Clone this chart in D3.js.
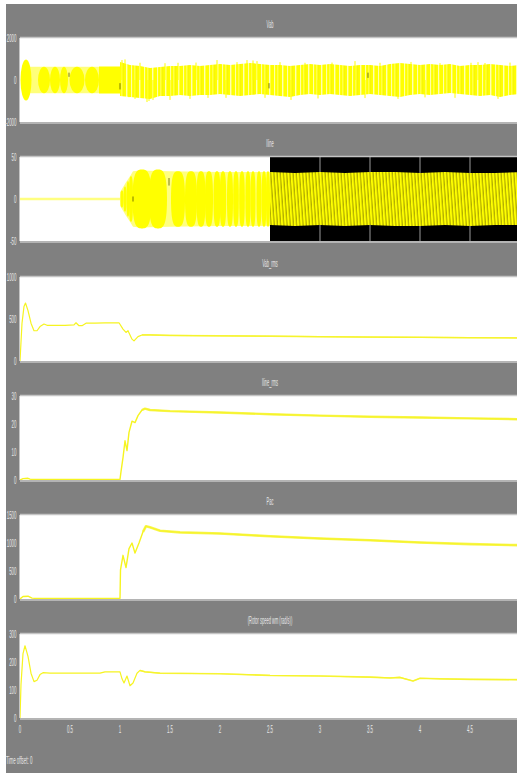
<!DOCTYPE html>
<html>
<head>
<meta charset="utf-8">
<script src="https://cdn.jsdelivr.net/npm/d3@7"></script>
<style>
body { margin: 0; background: #fff; }
svg { display: block; }
text { font-family: "Liberation Sans", Arial, sans-serif; fill: #e6e6e6; }
</style>
</head>
<body>
<svg id="chart" width="517" height="773"></svg>
<script>
// ---- data ----
const timeTicks = [0, 0.5, 1, 1.5, 2, 2.5, 3, 3.5, 4, 4.5]
const titles = ["Vab", "Iline", "Vab_rms", "Iline_rms", "Pac", "(Rotor speed wm (rad/s))"]
const yDomains = [[-2000, 2000], [-50, 50], [0, 1000], [0, 30], [0, 1500], [0, 300]]
const yTicks = [[-2000, 0, 2000], [-50, 0, 50], [0, 500, 1000], [0, 10, 20, 30], [0, 500, 1000, 1500], [0, 100, 200, 300]]

// Vab: beat lobes before 1 s  [centre t, half width, amplitude]
const vabLobes = [[0.06, 0.055, 980], [0.24, 0.06, 630], [0.35, 0.05, 630], [0.44, 0.04, 630], [0.57, 0.075, 630], [0.72, 0.07, 630]]
const vabPale = [[0.1, 1.0, 630]]
const vabSolid = [[0.79, 1.0, 640]]
// Vab envelope after 1 s
const vabEnvT = [1.0, 1.1, 1.2, 1.3, 1.4, 1.5, 1.6, 1.7, 1.8, 1.9, 2.0, 2.1, 2.2, 2.3, 2.4, 2.5, 2.6, 2.7, 2.8, 2.9, 3.0,
  3.1, 3.2, 3.3, 3.4, 3.5, 3.6, 3.7, 3.8, 3.9, 4.0, 4.1, 4.2, 4.3, 4.4, 4.5, 4.6, 4.7, 4.8, 4.9, 5.0]
const vabHi = [860, 710, 670, 570, 620, 670, 670, 710, 670, 710, 760, 710, 760, 810, 760, 710, 710, 670, 710, 760, 710,
  760, 710, 670, 710, 710, 670, 760, 810, 760, 710, 760, 710, 760, 670, 710, 710, 760, 710, 670, 710]
const vabLo = [-760, -810, -860, -900, -760, -760, -710, -760, -710, -710, -670, -710, -760, -710, -670, -710, -760, -810, -710, -670, -710,
  -670, -710, -760, -710, -670, -710, -760, -810, -710, -670, -710, -670, -620, -670, -710, -760, -710, -810, -710, -670]
const vabSpikes = [[1.02, 950], [1.05, 980], [1.09, -820], [1.15, -900], [1.2, 820], [1.27, -1050], [1.29, -1000], [1.33, -950],
  [1.45, 800], [1.5, -950], [1.58, 820], [1.7, -900], [1.76, 830], [1.88, -850], [1.97, 950], [2.06, -850], [2.17, 850],
  [2.27, 950], [2.33, 930], [2.37, 900], [2.45, -850], [2.6, 850], [2.71, -950], [2.85, 820], [2.98, -880], [3.12, 830],
  [3.35, 900], [3.45, -860], [3.6, 820], [3.78, -900], [3.91, 860], [4.05, -830], [4.2, 800], [4.35, -850], [4.51, 820],
  [4.58, 850], [4.65, 810], [4.78, -900], [4.9, 830]]
const vabMarks = [[0.49, 150, 350], [1.0, -150, -450], [2.49, -150, -400], [3.48, 100, 350]]

// Iline
const ilineZeroT = [0, 1.0]
const ilineZero = [0, 0]
const ilinePaleT = [1.0, 1.03, 1.06, 1.1, 1.13, 1.2, 1.5, 2.0, 2.5]
const ilinePale = [8, 14, 20, 27, 33, 34, 33, 32, 32]
const ilineLobes = [[1.02, 0.015, 10], [1.05, 0.015, 15], [1.08, 0.015, 21], [1.11, 0.02, 27], [1.22, 0.095, 35], [1.38, 0.09, 35],
  [1.58, 0.07, 33], [1.71, 0.06, 33], [1.81, 0.045, 33], [1.89, 0.04, 33], [1.97, 0.035, 33], [2.03, 0.032, 33],
  [2.10, 0.03, 33], [2.16, 0.028, 33], [2.22, 0.028, 33], [2.28, 0.026, 33], [2.33, 0.025, 33], [2.39, 0.025, 33],
  [2.44, 0.024, 33], [2.48, 0.02, 33]]
const ilineBandT = [2.5, 2.75, 3.0, 3.25, 3.5, 3.75, 4.0, 4.25, 4.5, 4.75, 5.0]
const ilineBandHi = [32, 31, 32, 31, 32, 32, 31, 32, 31, 31, 32]
const ilineBandLo = [-31, -32, -31, -32, -31, -32, -32, -31, -32, -31, -31]
const ilineBlackFrom = 2.5
const ilineGrid = [3, 3.5, 4, 4.5]
const ilineMarks = [[1.13, 3, -3], [1.49, 25, 16]]

// Vab_rms
const vabRmsT = [0, 0.02, 0.04, 0.055, 0.08, 0.11, 0.14, 0.17, 0.2, 0.24, 0.27, 0.35, 0.45, 0.54, 0.56, 0.59, 0.62, 0.66, 0.75, 0.85,
  0.99, 1.03, 1.06, 1.08, 1.12, 1.14, 1.18, 1.22, 1.3, 1.5, 2.0, 2.5, 3.0, 3.5, 4.0, 4.5, 5.0]
const vabRms = [0, 450, 650, 690, 600, 450, 360, 360, 410, 440, 425, 425, 425, 430, 455, 420, 420, 450, 450, 455,
  455, 380, 340, 360, 260, 240, 290, 310, 310, 305, 300, 295, 290, 285, 282, 278, 275]

// Iline_rms
const ilineRmsT = [0, 0.03, 0.08, 0.1, 0.12, 1.0, 1.01, 1.03, 1.05, 1.07, 1.09, 1.12, 1.15, 1.18, 1.22, 1.25, 1.3, 1.5,
  2.0, 2.5, 3.0, 3.5, 4.0, 4.5, 5.0]
const ilineRms = [0, 0.5, 0.6, 0.3, 0.2, 0.2, 3, 8, 14, 10.5, 17, 21, 20.5, 23, 25, 25.5, 25, 24.6,
  24.1, 23.5, 23.0, 22.6, 22.3, 22.0, 21.7]

// Pac
const pacT = [0, 0.03, 0.08, 0.12, 0.15, 1.0, 1.005, 1.03, 1.06, 1.09, 1.12, 1.15, 1.19, 1.23, 1.26, 1.3, 1.4, 1.6,
  2.0, 2.5, 3.0, 3.5, 4.0, 4.5, 5.0]
const pac = [0, 45, 50, 15, 12, 12, 520, 780, 560, 900, 1000, 820, 1000, 1200, 1300, 1280, 1220, 1190,
  1170, 1120, 1080, 1050, 1010, 980, 960]

// Rotor speed
const wmT = [0, 0.01, 0.03, 0.05, 0.08, 0.11, 0.14, 0.17, 0.2, 0.23, 0.3, 0.8, 0.85, 1.0, 1.02, 1.04, 1.07, 1.1, 1.13,
  1.17, 1.2, 1.25, 1.4, 2.0, 2.5, 3.0, 3.5, 3.7, 3.8, 3.93, 4.0, 4.2, 4.5, 5.0]
const wm = [0, 120, 230, 258, 220, 160, 130, 135, 155, 162, 160, 160, 165, 165, 140, 125, 150, 115, 125,
  160, 170, 165, 160, 158, 152, 150, 146, 143, 145, 132, 142, 140, 138, 137]

// ---- layout ----
const W = 517, H = 773
const left = 20, right = 520, plotH = 84
const tops = [38, 157, 277, 396, 515, 634]
const textScale = 0.4

const svg = d3.select("#chart")
const zip = (ts, vs) => ts.map((t, i) => ({t: t, v: vs[i]}))

// backgrounds
svg.append("rect").attr("x", 6).attr("y", 4).attr("width", W - 6).attr("height", H - 4).attr("fill", "#808080")

// patterns
const defs = svg.append("defs")
const pv = defs.append("pattern").attr("id", "vabTex").attr("patternUnits", "userSpaceOnUse")
  .attr("width", 13).attr("height", 84)
pv.append("rect").attr("width", 13).attr("height", 84).attr("fill", "#ffff00")
pv.append("rect").attr("x", 1).attr("width", 1.1).attr("height", 84).attr("fill", "#ffffa6")
pv.append("rect").attr("x", 4.5).attr("width", 0.7).attr("height", 84).attr("fill", "#ffff90")
pv.append("rect").attr("x", 6.6).attr("width", 0.5).attr("height", 84).attr("fill", "#ecea10")
pv.append("rect").attr("x", 9).attr("width", 1.4).attr("height", 84).attr("fill", "#ffffb0")

const pi = defs.append("pattern").attr("id", "ilineTex").attr("patternUnits", "userSpaceOnUse")
  .attr("width", 3.2).attr("height", 84).attr("patternTransform", "skewX(4)")
pi.append("rect").attr("width", 3.2).attr("height", 84).attr("fill", "#ffff00")
pi.append("rect").attr("x", 2).attr("width", 1.1).attr("height", 84).attr("fill", "#a8a200")

const x = d3.scaleLinear().domain([0, 5]).range([left, right])

function label(g, txt, tx, ty, anchor, size) {
  g.append("text")
    .attr("transform", `translate(${tx},${ty}) scale(${textScale},1)`)
    .attr("text-anchor", anchor)
    .attr("dominant-baseline", "central")
    .attr("font-size", size)
    .text(txt)
}

const panels = tops.map((top, i) => {
  const y = d3.scaleLinear().domain(yDomains[i]).range([top + plotH, top])
  const g = svg.append("g")
  g.append("rect").attr("x", left).attr("y", top).attr("width", right - left).attr("height", plotH)
    .attr("fill", "#fff")
  const clipId = "clip" + i
  defs.append("clipPath").attr("id", clipId).append("rect")
    .attr("x", left).attr("y", top).attr("width", right - left).attr("height", plotH)
  const body = g.append("g").attr("clip-path", `url(#${clipId})`)
  // title
  label(g, titles[i], x(2.5), top - 13, "middle", 10)
  // y tick labels
  yTicks[i].forEach(v => label(g, v, 16.5, y(v), "end", 11))
  return {g, body, y, top}
})

// ---- Vab ----
{
  const {body, y} = panels[0]
  body.selectAll(".pale").data(vabPale).join("rect")
    .attr("x", d => x(d[0])).attr("width", d => x(d[1]) - x(d[0]))
    .attr("y", d => y(d[2])).attr("height", d => y(-d[2]) - y(d[2]))
    .attr("fill", "#ffff7a")
  body.selectAll(".lobe").data(vabLobes).join("ellipse")
    .attr("cx", d => x(d[0])).attr("rx", d => x(d[0] + d[1]) - x(d[0]))
    .attr("cy", y(0)).attr("ry", d => y(0) - y(d[2]))
    .attr("fill", "#ffff00")
  body.selectAll(".solid").data(vabSolid).join("rect")
    .attr("x", d => x(d[0])).attr("width", d => x(d[1]) - x(d[0]))
    .attr("y", d => y(d[2])).attr("height", d => y(-d[2]) - y(d[2]))
    .attr("fill", "#ffff00")
  const env = vabEnvT.map((t, i) => ({t: t, hi: vabHi[i], lo: vabLo[i]}))
  body.append("path").datum(env)
    .attr("d", d3.area().x(d => x(d.t)).y0(d => y(d.lo)).y1(d => y(d.hi)).curve(d3.curveLinear))
    .attr("fill", "url(#vabTex)")
  body.selectAll(".spike").data(vabSpikes).join("line")
    .attr("x1", d => x(d[0])).attr("x2", d => x(d[0]))
    .attr("y1", y(0)).attr("y2", d => y(d[1]))
    .attr("stroke", "#ffff00").attr("stroke-width", 1)
  body.selectAll(".mark").data(vabMarks).join("line")
    .attr("x1", d => x(d[0])).attr("x2", d => x(d[0]))
    .attr("y1", d => y(d[1])).attr("y2", d => y(d[2]))
    .attr("stroke", "#555500").attr("stroke-width", 0.8)
}

// ---- Iline ----
{
  const {body, y, top} = panels[1]
  body.append("rect").attr("x", x(ilineBlackFrom)).attr("width", right - x(ilineBlackFrom))
    .attr("y", top).attr("height", plotH).attr("fill", "#000")
  body.selectAll(".grid").data(ilineGrid).join("line")
    .attr("x1", d => x(d)).attr("x2", d => x(d)).attr("y1", top).attr("y2", top + plotH)
    .attr("stroke", "#9a9a9a").attr("stroke-width", 1)
  body.append("path").datum(zip(ilineZeroT, ilineZero))
    .attr("d", d3.line().x(d => x(d.t)).y(d => y(d.v)))
    .attr("stroke", "#ffff80").attr("stroke-width", 2.5).attr("fill", "none")
  body.append("path").datum(zip(ilinePaleT, ilinePale))
    .attr("d", d3.area().x(d => x(d.t)).y0(d => y(-d.v)).y1(d => y(d.v)))
    .attr("fill", "#ffff80")
  body.selectAll(".lobe").data(ilineLobes).join("path")
    .attr("d", d => {
      const x0 = x(d[0] - d[1]), x1 = x(d[0] + d[1]), xc = x(d[0])
      const yc = y(0), up = y(d[2]), dn = y(-d[2])
      const p = d3.path()
      p.moveTo(x0, yc)
      p.bezierCurveTo(x0, up, xc - (xc - x0) * 0.45, up, xc, up)
      p.bezierCurveTo(xc + (x1 - xc) * 0.45, up, x1, up, x1, yc)
      p.bezierCurveTo(x1, dn, xc + (x1 - xc) * 0.45, dn, xc, dn)
      p.bezierCurveTo(xc - (xc - x0) * 0.45, dn, x0, dn, x0, yc)
      p.closePath()
      return p.toString()
    })
    .attr("fill", "#ffff00")
  const band = ilineBandT.map((t, i) => ({t: t, hi: ilineBandHi[i], lo: ilineBandLo[i]}))
  body.append("path").datum(band)
    .attr("d", d3.area().x(d => x(d.t)).y0(d => y(d.lo)).y1(d => y(d.hi)))
    .attr("fill", "url(#ilineTex)")
  body.selectAll(".mark").data(ilineMarks).join("line")
    .attr("x1", d => x(d[0])).attr("x2", d => x(d[0]))
    .attr("y1", d => y(d[1])).attr("y2", d => y(d[2]))
    .attr("stroke", "#555500").attr("stroke-width", 0.8)
}

// ---- rms / power / speed lines ----
const lineSeries = [
  {p: 2, t: vabRmsT, v: vabRms, w: 1.2, thick: 1.5},
  {p: 3, t: ilineRmsT, v: ilineRms, w: 1.4, thick: 2.4},
  {p: 4, t: pacT, v: pac, w: 1.4, thick: 2.6},
  {p: 5, t: wmT, v: wm, w: 1.2, thick: 1.6}
]
lineSeries.forEach(s => {
  const {body, y} = panels[s.p]
  const pts = zip(s.t, s.v)
  const line = d3.line().x(d => x(d.t)).y(d => y(d.v))
  body.append("path").datum(pts).attr("d", line)
    .attr("fill", "none").attr("stroke", "#f6f420").attr("stroke-width", s.w)
    .attr("stroke-linejoin", "round")
  body.append("path").datum(pts.filter(d => d.t >= 1.2)).attr("d", line)
    .attr("fill", "none").attr("stroke", "#f6f430").attr("stroke-width", s.thick)
    .attr("stroke-opacity", 0.8).attr("stroke-linejoin", "round")
})

// frame lines
panels.forEach(({g, top}) => {
  g.append("line").attr("x1", left).attr("x2", W).attr("y1", top - 0.5).attr("y2", top - 0.5)
    .attr("stroke", "#c4c4c4").attr("stroke-width", 1.5)
  g.append("line").attr("x1", left).attr("x2", W).attr("y1", top + plotH + 1).attr("y2", top + plotH + 1)
    .attr("stroke", "#b4b4b4").attr("stroke-width", 2)
  g.append("line").attr("x1", left - 0.5).attr("x2", left - 0.5).attr("y1", top).attr("y2", top + plotH)
    .attr("stroke", "#c4c4c4").attr("stroke-width", 1)
})

// x tick labels under last panel
const last = panels[5]
timeTicks.forEach(t => label(svg, t, x(t), last.top + plotH + 11, "middle", 11))
label(svg, "Time offset:  0", 6, 760, "start", 11)
</script>
</body>
</html>
